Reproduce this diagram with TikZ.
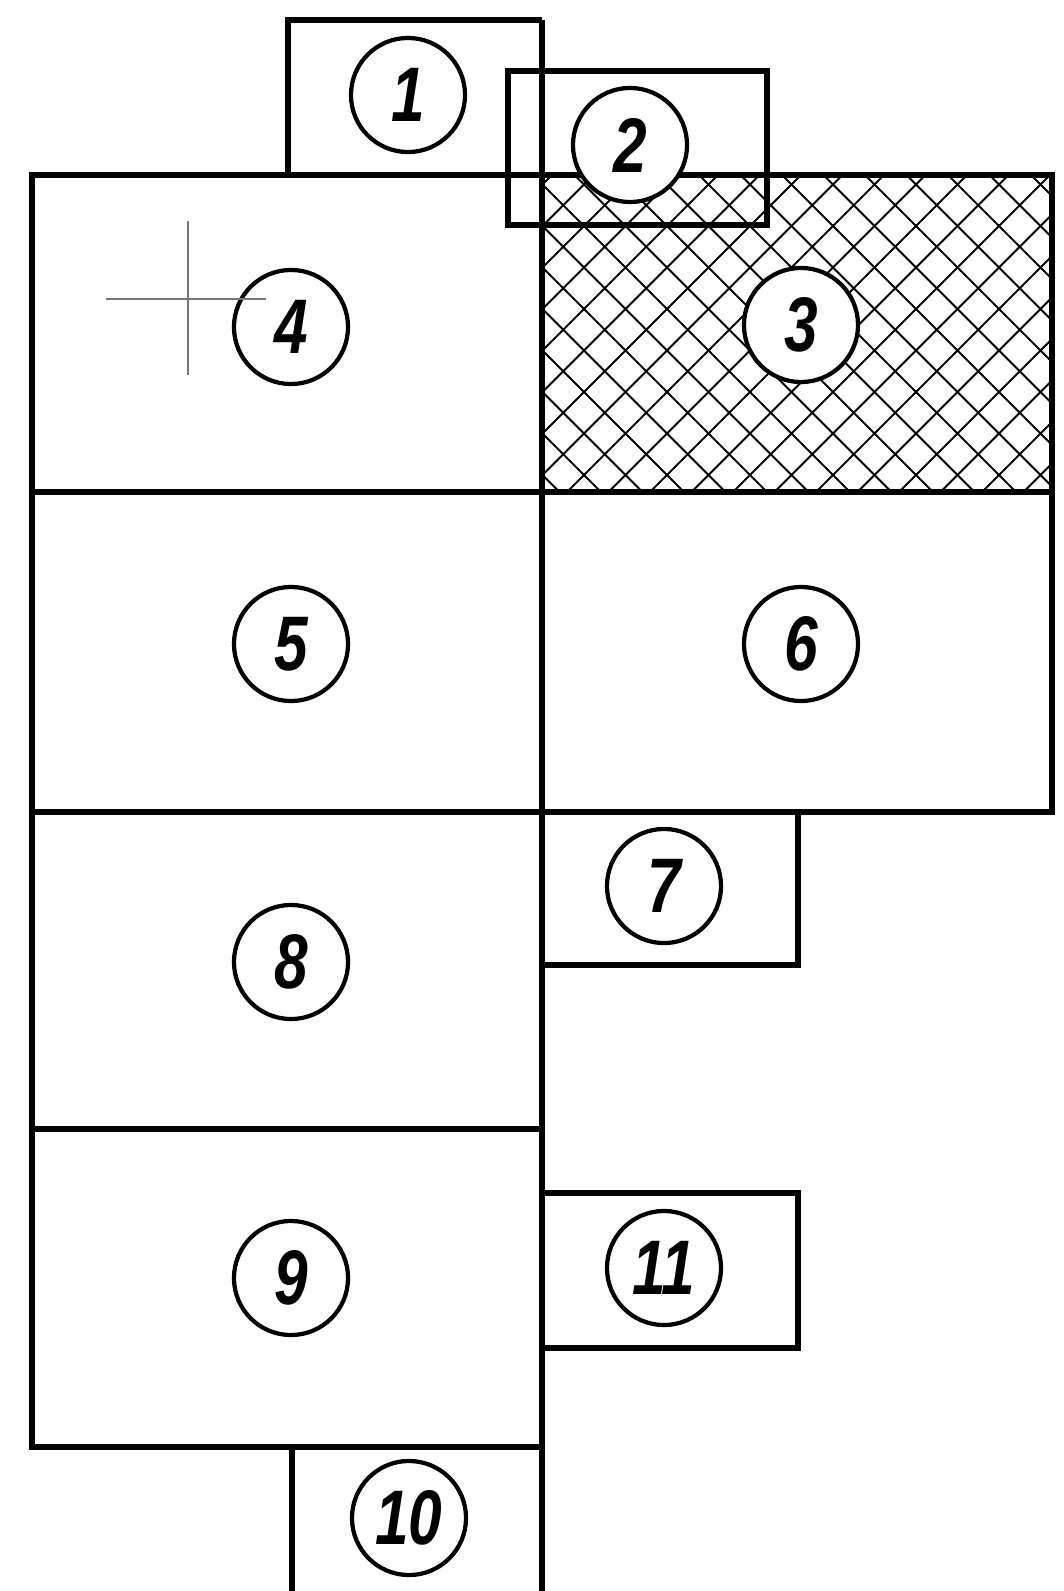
\documentclass[tikz,border=0pt]{standalone}
\usepackage{fontspec}
\usepackage{tikz}
\newfontfamily\numfont[FakeStretch=0.78]{Liberation Sans}
\definecolor{cLine}{RGB}{0,0,0}
\definecolor{cAxis}{RGB}{120,120,120}
\tikzset{
  partno/.style={circle,draw=cLine,line width=1.2pt,fill=white,
    minimum size=1.14cm,inner sep=0pt,font=\numfont\bfseries\itshape\fontsize{22}{22}\selectfont},
  hatchline/.style={line width=0.55pt,draw=cLine}
}

\begin{document}
\begin{tikzpicture}[x=0.01cm, y=-0.01cm, line width=1.7pt]
  \useasboundingbox (0,0) rectangle (1064,1591);
  % cross-hatched zone 3
  \begin{scope}
    \clip (542,175) rectangle (1052,492);
    \foreach \k in {0,...,21}{%
      \draw[hatchline] ({201+41.5*\k},175) -- ++(330,330);
    }
    \foreach \k in {-3,...,18}{%
      \draw[hatchline] ({635+41.5*\k},175) -- ++(-330,330);
    }
  \end{scope}
  % left column (4, 5, 8, 9)
  \draw (32,175) rectangle (542,1447);
  \draw (32,492) -- (542,492);
  \draw (32,812) -- (542,812);
  \draw (32,1129) -- (542,1129);
  % right column (3, 6)
  \draw (542,175) rectangle (1052,812);
  \draw (542,492) -- (1052,492);
  % middle line, top to bottom
  \draw (542,20) -- (542,1591);
  % small boxes
  \draw (542,175) -- (288,175) -- (288,20) -- (542,20);
  \draw (508,71) rectangle (767,225);
  \draw (542,812) -- (798,812) -- (798,965) -- (542,965);
  \draw (542,1193) -- (798,1193) -- (798,1348) -- (542,1348);
  \draw (292,1591) -- (292,1447);
  % part numbers
  \node[partno] (p1) at (408,95) {1};
  \node[partno] (p2) at (630,145) {2};
  \node[partno] (p3) at (801,325) {3};
  \node[partno] (p4) at (291,327) {4};
  \node[partno] (p5) at (291,644) {5};
  \node[partno] (p6) at (801,644) {6};
  \node[partno] (p7) at (664,886) {7};
  \node[partno] (p8) at (291,962) {8};
  \node[partno] (p9) at (291,1278) {9};
  \node[partno] (p10) at (409,1518) {10};
  \node[partno] (p11) at (664,1268) {11};
  % axis mark in zone 4
  \draw[cAxis,line width=0.8pt] (188,221) -- (188,375);
  \draw[cAxis,line width=0.8pt] (106,299) -- (266,299);
\end{tikzpicture}
\end{document}
